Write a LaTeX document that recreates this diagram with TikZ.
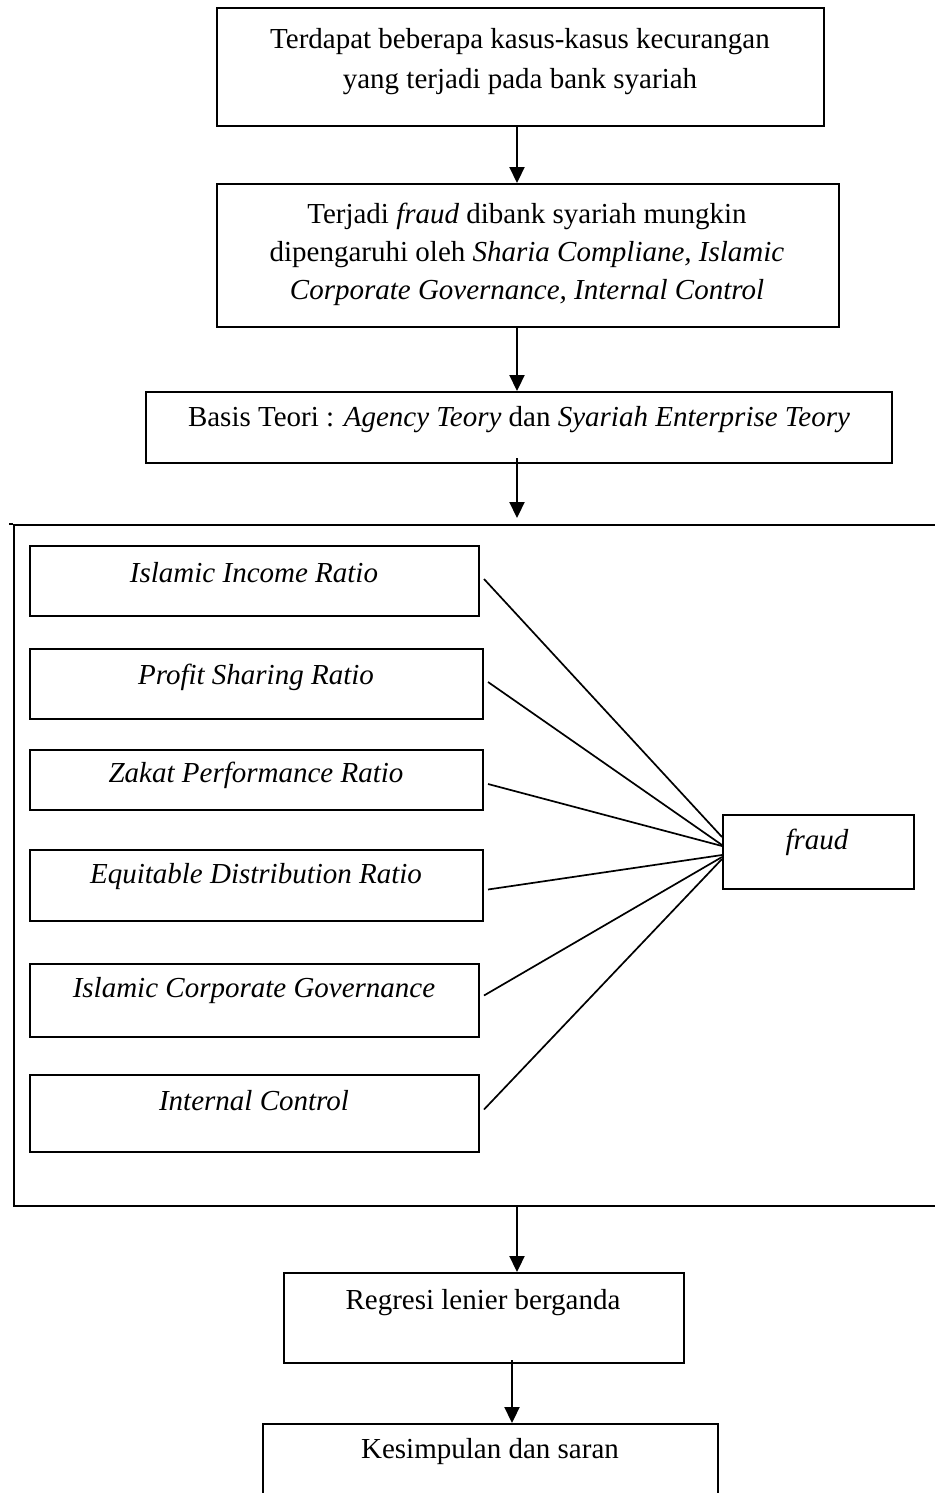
\documentclass[tikz,border=0pt]{standalone}
\usepackage{fontspec}
\setmainfont{Liberation Serif}
\usetikzlibrary{arrows.meta,calc}
\begin{document}
\begin{tikzpicture}[x=1pt,y=-1pt,
  box/.style={draw,line width=2pt,inner sep=0pt,anchor=north west},
  txt/.style={font=\fontsize{29}{38}\selectfont,align=center,inner sep=0pt},
  arr/.style={line width=2.2pt,-{Triangle[width=15pt,length=16pt]}},
  link/.style={line width=1.7pt},
  frameline/.style={line width=1.8pt}]
\useasboundingbox (0,0) rectangle (934,1493);
\coordinate (ax) at (517,0);
% top boxes
\node[box,minimum width=607pt,minimum height=118pt] (b1) at (216,7) {};
\node[txt,font=\fontsize{29}{40}\selectfont] (t1) at (520,62) {Terdapat beberapa kasus-kasus kecurangan\\yang terjadi pada bank syariah};
\node[box,minimum width=622pt,minimum height=143pt] (b2) at (216,183) {};
\node[txt] (t2) at (527,254) {Terjadi \textit{fraud} dibank syariah mungkin\\dipengaruhi oleh \textit{Sharia Compliane, Islamic}\\\textit{Corporate Governance, Internal Control}};
\node[box,minimum width=746pt,minimum height=71pt] (b3) at (145,391) {};
\node[txt] (t3) at (519,420) {Basis Teori : \textit{Agency Teory} dan \textit{Syariah Enterprise Teory}};
\draw[arr] (b1.south -| ax) -- (b2.north -| ax);
\draw[arr] (b2.south -| ax) -- (b3.north -| ax);
\coordinate (a3s) at (517,458);
\coordinate (a3e) at (517,518);
\draw[arr] (a3s) -- (a3e);
% frame
\node[draw,frameline,inner sep=0pt,anchor=north west,minimum width=930pt,minimum height=681pt] (frame) at (13,524) {};
\draw[frameline] (9,524) -- (13,524);
% inner boxes
\node[box,minimum width=449pt,minimum height=70pt] (v1) at (29,545) {};
\node[txt] at (254,573) {\textit{Islamic Income Ratio}};
\node[box,minimum width=453pt,minimum height=70pt] (v2) at (29,648) {};
\node[txt] at (256,677) {\textit{Profit Sharing Ratio}};
\node[box,minimum width=453pt,minimum height=60pt] (v3) at (29,749) {};
\node[txt] at (256,775) {\textit{Zakat Performance Ratio}};
\node[box,minimum width=453pt,minimum height=71pt] (v4) at (29,849) {};
\node[txt] at (256,877) {\textit{Equitable Distribution Ratio}};
\node[box,minimum width=449pt,minimum height=73pt] (v5) at (29,963) {};
\node[txt] at (254,991) {\textit{Islamic Corporate Governance}};
\node[box,minimum width=449pt,minimum height=77pt] (v6) at (29,1074) {};
\node[txt] at (254,1101) {\textit{Internal Control}};
\node[box,minimum width=191pt,minimum height=74pt] (fr) at (722,814) {};
\node[txt] at (817,842) {\textit{fraud}};
\draw[link] ([xshift=4pt,yshift=2pt]v1.east) -- ([yshift=15pt]fr.west);
\draw[link] ([xshift=4pt,yshift=2pt]v2.east) -- ([yshift=7pt]fr.west);
\draw[link] ([xshift=4pt,yshift=-4pt]v3.east) -- ([yshift=6pt]fr.west);
\draw[link] ([xshift=4pt,yshift=-4pt]v4.east) -- ([yshift=-3pt]fr.west);
\draw[link] ([xshift=4pt,yshift=5pt]v5.east) -- ([yshift=-5pt]fr.west);
\draw[link] ([xshift=4pt,yshift=4pt]v6.east) -- ([yshift=-7pt]fr.west);
% bottom
\node[box,minimum width=400pt,minimum height=90pt] (b7) at (283,1272) {};
\node[txt] (t7) at (483,1303) {Regresi lenier berganda};
\node[box,minimum width=455pt,minimum height=90pt] (b8) at (262,1423) {};
\node[txt] (t8) at (490,1452) {Kesimpulan dan saran};
\draw[arr] (frame.south -| ax) -- (b7.north -| ax);
\coordinate (bx) at (512,0);
\draw[arr] ([yshift=4pt]b7.south -| bx) -- (b8.north -| bx);
\end{tikzpicture}
\end{document}
